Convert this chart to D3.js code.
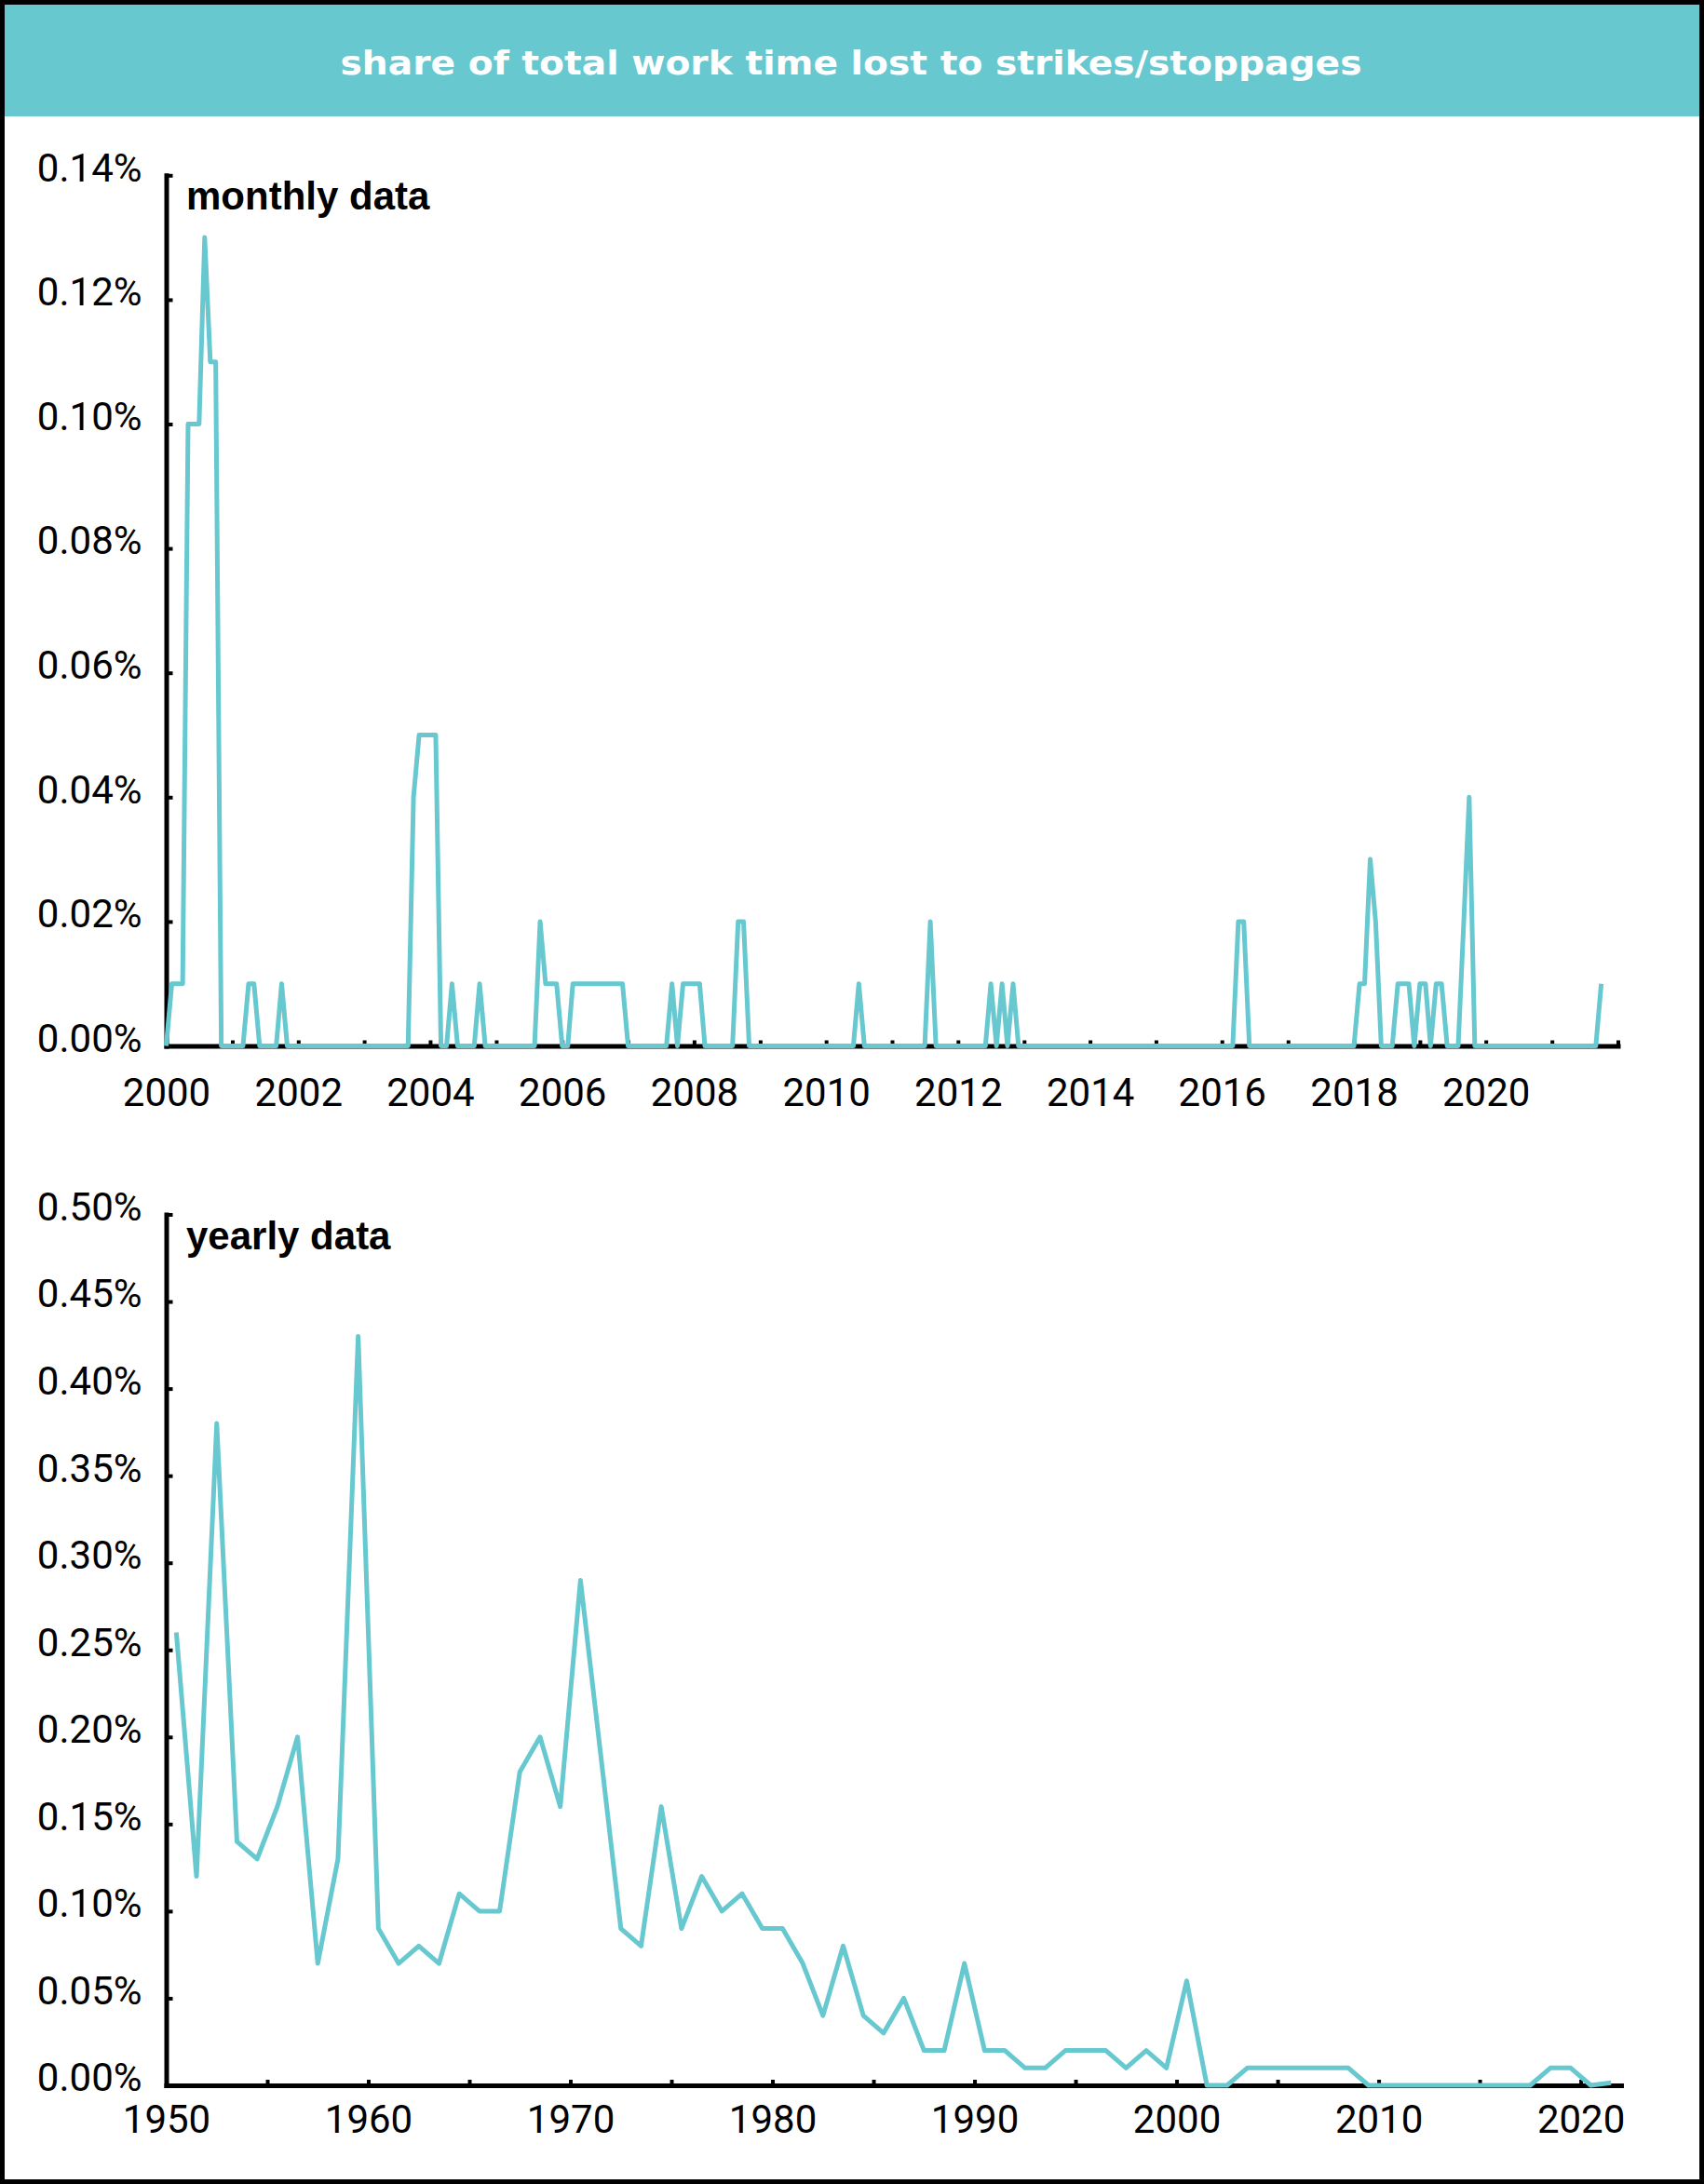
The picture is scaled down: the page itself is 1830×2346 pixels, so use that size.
<!DOCTYPE html>
<html>
<head>
<meta charset="utf-8">
<script src="https://cdn.jsdelivr.net/npm/d3@7"></script>
<style>
    body { margin: 0; background: #fff; }
</style>
</head>
<body>
<svg id="chart" width="1830" height="2346"></svg>
<script>
// monthly share of work time lost (%), Jan 2000 - Oct 2021, one row per year
var monthlyStart = new Date(2000, 0, 1);
var monthlyValues = [
    0, 0.01, 0.01, 0.01, 0.10, 0.10, 0.10, 0.13, 0.11, 0.11, 0, 0,       // 2000
    0, 0, 0, 0.01, 0.01, 0, 0, 0, 0, 0.01, 0, 0,                          // 2001
    0, 0, 0, 0, 0, 0, 0, 0, 0, 0, 0, 0,                                   // 2002
    0, 0, 0, 0, 0, 0, 0, 0, 0, 0.04, 0.05, 0.05,                          // 2003
    0.05, 0.05, 0, 0, 0.01, 0, 0, 0, 0, 0.01, 0, 0,                       // 2004
    0, 0, 0, 0, 0, 0, 0, 0, 0.02, 0.01, 0.01, 0.01,                       // 2005
    0, 0, 0.01, 0.01, 0.01, 0.01, 0.01, 0.01, 0.01, 0.01, 0.01, 0.01,     // 2006
    0, 0, 0, 0, 0, 0, 0, 0, 0.01, 0, 0.01, 0.01,                          // 2007
    0.01, 0.01, 0, 0, 0, 0, 0, 0, 0.02, 0.02, 0, 0,                       // 2008
    0, 0, 0, 0, 0, 0, 0, 0, 0, 0, 0, 0,                                   // 2009
    0, 0, 0, 0, 0, 0, 0.01, 0, 0, 0, 0, 0,                                // 2010
    0, 0, 0, 0, 0, 0, 0, 0.02, 0, 0, 0, 0,                                // 2011
    0, 0, 0, 0, 0, 0, 0.01, 0, 0.01, 0, 0.01, 0,                          // 2012
    0, 0, 0, 0, 0, 0, 0, 0, 0, 0, 0, 0,                                   // 2013
    0, 0, 0, 0, 0, 0, 0, 0, 0, 0, 0, 0,                                   // 2014
    0, 0, 0, 0, 0, 0, 0, 0, 0, 0, 0, 0,                                   // 2015
    0, 0, 0, 0.02, 0.02, 0, 0, 0, 0, 0, 0, 0,                             // 2016
    0, 0, 0, 0, 0, 0, 0, 0, 0, 0, 0, 0,                                   // 2017
    0, 0.01, 0.01, 0.03, 0.02, 0, 0, 0, 0.01, 0.01, 0.01, 0,              // 2018
    0.01, 0.01, 0, 0.01, 0.01, 0, 0, 0, 0.02, 0.04, 0, 0,                 // 2019
    0, 0, 0, 0, 0, 0, 0, 0, 0, 0, 0, 0,                                   // 2020
    0, 0, 0, 0, 0, 0, 0, 0, 0, 0.01                                       // 2021
];
var monthlyYTicks = [0, 0.02, 0.04, 0.06, 0.08, 0.10, 0.12, 0.14];
var monthlyXTicks = [2000, 2001, 2002, 2003, 2004, 2005, 2006, 2007, 2008, 2009, 2010, 2011,
                     2012, 2013, 2014, 2015, 2016, 2017, 2018, 2019, 2020, 2021, 2022];
var monthlyXLabels = [2000, 2002, 2004, 2006, 2008, 2010, 2012, 2014, 2016, 2018, 2020];

// yearly share of work time lost (%), 1950 - 2021
var yearlyYears = [1950, 1951, 1952, 1953, 1954, 1955, 1956, 1957, 1958, 1959,
                   1960, 1961, 1962, 1963, 1964, 1965, 1966, 1967, 1968, 1969,
                   1970, 1971, 1972, 1973, 1974, 1975, 1976, 1977, 1978, 1979,
                   1980, 1981, 1982, 1983, 1984, 1985, 1986, 1987, 1988, 1989,
                   1990, 1991, 1992, 1993, 1994, 1995, 1996, 1997, 1998, 1999,
                   2000, 2001, 2002, 2003, 2004, 2005, 2006, 2007, 2008, 2009,
                   2010, 2011, 2012, 2013, 2014, 2015, 2016, 2017, 2018, 2019,
                   2020, 2021];
var yearlyValues = [0.26, 0.12, 0.38, 0.14, 0.13, 0.16, 0.20, 0.07, 0.13, 0.43,
                    0.09, 0.07, 0.08, 0.07, 0.11, 0.10, 0.10, 0.18, 0.20, 0.16,
                    0.29, 0.19, 0.09, 0.08, 0.16, 0.09, 0.12, 0.10, 0.11, 0.09,
                    0.09, 0.07, 0.04, 0.08, 0.04, 0.03, 0.05, 0.02, 0.02, 0.07,
                    0.02, 0.02, 0.01, 0.01, 0.02, 0.02, 0.02, 0.01, 0.02, 0.01,
                    0.06, 0, 0, 0.01, 0.01, 0.01, 0.01, 0.01, 0.01, 0,
                    0, 0, 0, 0, 0, 0, 0, 0, 0.01, 0.01,
                    0, 0.0015];
var yearlyYTicks = [0, 0.05, 0.10, 0.15, 0.20, 0.25, 0.30, 0.35, 0.40, 0.45, 0.50];
var yearlyXTicks = [1950, 1955, 1960, 1965, 1970, 1975, 1980, 1985, 1990, 1995,
                    2000, 2005, 2010, 2015, 2020];
var yearlyXLabels = [1950, 1960, 1970, 1980, 1990, 2000, 2010, 2020];

var teal = "#67c8d0";
var sans = "'Liberation Sans', Arial, Helvetica, sans-serif";
var tickFont = "Roboto, 'Liberation Sans', Arial, sans-serif";
var pct = d3.format(".2f");

var svg = d3.select("#chart");

// header band + title
svg.append("rect")
    .attr("x", 4).attr("y", 4)
    .attr("width", 1822).attr("height", 121)
    .attr("fill", teal);

svg.append("text")
    .attr("x", 914).attr("y", 80)
    .attr("text-anchor", "middle")
    .attr("fill", "#fff")
    .style("font-family", "'DejaVu Sans', Verdana, sans-serif")
    .style("font-weight", "bold")
    .style("font-size", "35px")
    .attr("textLength", 1097)
    .attr("lengthAdjust", "spacingAndGlyphs")
    .text("share of total work time lost to strikes/stoppages");

// outer frame
svg.append("rect")
    .attr("x", 2.5).attr("y", 2.5)
    .attr("width", 1825).attr("height", 2341)
    .attr("fill", "none")
    .attr("stroke", "#000")
    .attr("stroke-width", 5);

function styleAxis(g, yLabelDy) {
    g.select(".domain")
        .attr("stroke", "#000")
        .attr("stroke-width", 5)
        .attr("stroke-linecap", "square");
    g.selectAll(".tick line")
        .attr("stroke", "#000")
        .attr("stroke-width", 4);
    g.selectAll(".tick text")
        .attr("fill", "#000")
        .style("font-size", "42px")
        .style("font-family", tickFont);
    if (yLabelDy) g.selectAll(".tick text").attr("dy", yLabelDy);
}

function drawPanel(p) {
    var g = svg.append("g");

    var yAxis = d3.axisLeft(p.y)
        .tickValues(p.yTicks)
        .tickSizeInner(-7)
        .tickSizeOuter(0)
        .tickPadding(26)
        .tickFormat(d => pct(d) + "%");

    var xAxis = d3.axisBottom(p.x)
        .tickValues(p.xTicks)
        .tickSizeInner(-6)
        .tickSizeOuter(0)
        .tickPadding(p.xPadding)
        .tickFormat(p.xFormat);

    g.append("g")
        .attr("transform", `translate(0,${p.y(0)})`)
        .call(xAxis)
        .call(ax => styleAxis(ax));

    g.append("g")
        .attr("transform", `translate(${p.x.range()[0]},0)`)
        .call(yAxis)
        .call(ax => styleAxis(ax, "0.14em"));

    var line = d3.line()
        .x(d => p.x(d.x))
        .y(d => p.y(d.v));

    g.append("path")
        .datum(p.data)
        .attr("fill", "none")
        .attr("stroke", teal)
        .attr("stroke-width", 5)
        .attr("stroke-linejoin", "round")
        .attr("d", line);

    g.append("text")
        .attr("x", 200)
        .attr("y", p.labelY)
        .style("font-family", sans)
        .style("font-weight", "bold")
        .style("font-size", "42px")
        .attr("fill", "#000")
        .text(p.label);
}

// monthly panel
var monthlyData = monthlyValues.map((v, i) => ({x: d3.timeMonth.offset(monthlyStart, i), v: v}));
var xMonthly = d3.scaleTime()
    .domain([new Date(2000, 0, 1), new Date(2022, 0, 1)])
    .range([178.5, 1737.5]);
var yMonthly = d3.scaleLinear().domain([0, 0.14]).range([1123.5, 188.3]);

drawPanel({
    x: xMonthly,
    y: yMonthly,
    data: monthlyData,
    yTicks: monthlyYTicks,
    xTicks: monthlyXTicks.map(yr => new Date(yr, 0, 1)),
    xFormat: d => monthlyXLabels.indexOf(d.getFullYear()) >= 0 ? d.getFullYear() : "",
    xPadding: 35,
    label: "monthly data",
    labelY: 225
});

// yearly panel (points sit mid-year)
var yearlyData = yearlyYears.map((yr, i) => ({x: yr + 0.5, v: yearlyValues[i]}));
var xYearly = d3.scaleLinear().domain([1950, 2022]).range([178.5, 1741]);
var yYearly = d3.scaleLinear().domain([0, 0.50]).range([2240, 1304.5]);

drawPanel({
    x: xYearly,
    y: yYearly,
    data: yearlyData,
    yTicks: yearlyYTicks,
    xTicks: yearlyXTicks,
    xFormat: d => yearlyXLabels.indexOf(d) >= 0 ? d : "",
    xPadding: 21.5,
    label: "yearly data",
    labelY: 1342
});
</script>
</body>
</html>
